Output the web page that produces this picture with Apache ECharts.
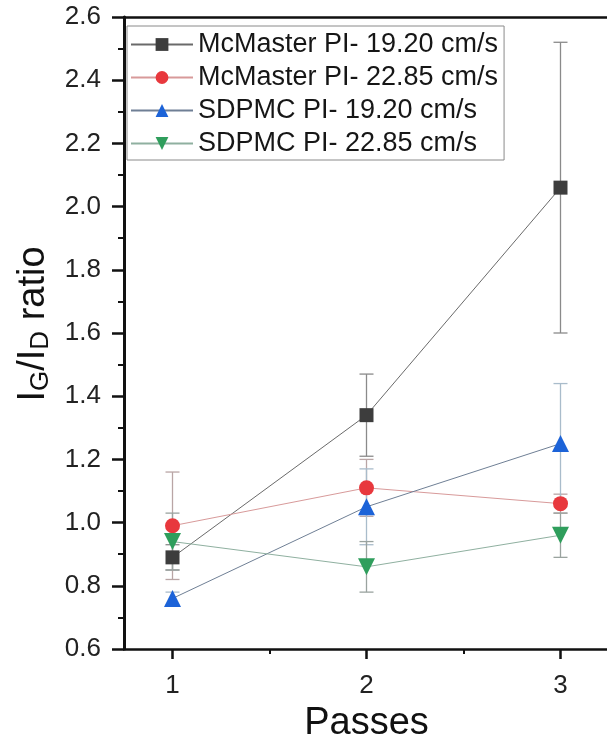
<!DOCTYPE html>
<html>
<head>
<meta charset="utf-8">
<script src="https://cdn.jsdelivr.net/npm/echarts@6/dist/echarts.min.js"></script>
<style>html,body{margin:0;padding:0;background:#fff;}#c{width:607px;height:739px;}</style>
</head>
<body>
<div id="c"></div>
<script>
// ---- data ----
const passes = [1, 2, 3];
const seriesNames = ['McMaster PI- 19.20 cm/s', 'McMaster PI- 22.85 cm/s', 'SDPMC PI- 19.20 cm/s', 'SDPMC PI- 22.85 cm/s'];
const mcm1920 = [0.89, 1.34, 2.06];
const mcm1920Err = [0.04, 0.13, 0.46];
const mcm2285 = [0.99, 1.11, 1.06];
const mcm2285Err = [0.17, 0.09, 0.03];
const sd1920 = [0.76, 1.05, 1.25];
const sd1920Err = [0.02, 0.12, 0.19];
const sd2285 = [0.94, 0.86, 0.96];
const sd2285Err = [0.09, 0.08, 0.07];
const xTickValues = [1, 2, 3];
const xMinorTickValues = [1.5, 2.5];

const FONT = 'Liberation Sans, Arial, sans-serif';
const styles = [
  {symbol: 'rect', size: 14, rot: 0, color: '#3d3d3d', line: '#6a6a6a', err: '#8a8a8a'},
  {symbol: 'circle', size: 15, rot: 0, color: '#e8383d', line: '#d89a9a', err: '#b9a5a5'},
  {symbol: 'triangle', size: 17, rot: 0, color: '#1c63d8', line: '#6f7f95', err: '#a9bccb'},
  {symbol: 'triangle', size: 17, rot: 180, color: '#2f9e5c', line: '#8fb0a0', err: '#9aa39f'}
];
const values = [mcm1920, mcm2285, sd1920, sd2285];
const errs = [mcm1920Err, mcm2285Err, sd1920Err, sd2285Err];

function errSeries(i) {
  const st = styles[i];
  return {
    type: 'custom',
    name: 'err' + i,
    z: 1,
    xAxisIndex: 0, yAxisIndex: 0,
    encode: {x: 0, y: [1, 2]},
    data: passes.map((p, k) => [p, values[i][k] - errs[i][k], values[i][k] + errs[i][k]]),
    renderItem: function (params, api) {
      const x = api.value(0);
      const lo = api.coord([x, api.value(1)]);
      const hi = api.coord([x, api.value(2)]);
      const hw = 7;
      const s = {stroke: st.err, lineWidth: 1.3};
      return {
        type: 'group',
        children: [
          {type: 'line', shape: {x1: lo[0], y1: lo[1], x2: hi[0], y2: hi[1]}, style: s},
          {type: 'line', shape: {x1: lo[0] - hw, y1: lo[1], x2: lo[0] + hw, y2: lo[1]}, style: s},
          {type: 'line', shape: {x1: hi[0] - hw, y1: hi[1], x2: hi[0] + hw, y2: hi[1]}, style: s}
        ]
      };
    }
  };
}

function lineSeries(i) {
  const st = styles[i];
  return {
    type: 'line',
    name: seriesNames[i],
    z: 3,
    xAxisIndex: 0, yAxisIndex: 0,
    data: passes.map((p, k) => [p, values[i][k]]),
    symbol: st.symbol,
    symbolSize: st.size,
    symbolRotate: st.rot,
    itemStyle: {color: st.color},
    lineStyle: {color: st.line, width: 1},
    emphasis: {disabled: true}
  };
}

const chart = echarts.init(document.getElementById('c'), null, {renderer: 'canvas'});
chart.setOption({
  animation: false,
  backgroundColor: '#fff',
  grid: {left: 124, right: -2, top: 17, bottom: 90, outerBoundsMode: 'none', containLabel: false},
  legend: {
    data: seriesNames,
    orient: 'vertical',
    left: 127, top: 26,
    itemWidth: 62, itemHeight: 16, itemGap: 6,
    padding: [5, 6, 3, 3],
    borderColor: '#8a8a8a', borderWidth: 1,
    textStyle: {fontSize: 27, fontFamily: FONT, color: '#161616'},
    selectedMode: false
  },
  xAxis: [
    {
      type: 'value', min: 0.75, max: 3.25, position: 'bottom',
      name: 'Passes', nameLocation: 'middle', nameGap: 56,
      nameTextStyle: {fontSize: 38, fontFamily: FONT, color: '#111'},
      axisLine: {show: true, lineStyle: {color: '#111', width: 2.5}},
      axisTick: {show: true, customValues: xTickValues, length: 10, inside: false, lineStyle: {color: '#111', width: 2.5}},
      axisLabel: {show: true, customValues: xTickValues, fontSize: 26, fontFamily: FONT, color: '#222', margin: 24},
      splitLine: {show: false}
    },
    {
      type: 'value', min: 0.75, max: 3.25, position: 'bottom',
      axisLine: {show: false},
      axisTick: {show: true, customValues: xMinorTickValues, length: 5, lineStyle: {color: '#111', width: 2}},
      axisLabel: {show: false},
      splitLine: {show: false}
    },
    {
      type: 'value', min: 0.75, max: 3.25, position: 'top',
      axisLine: {show: true, lineStyle: {color: '#111', width: 2.5}},
      axisTick: {show: false},
      axisLabel: {show: false},
      splitLine: {show: false}
    }
  ],
  yAxis: {
    type: 'value', min: 0.6, max: 2.6, interval: 0.2,
    name: '{i|I}{sub|G}{i|/I}{sub|D}{i| ratio}',
    nameLocation: 'middle', nameGap: 64,
    nameTextStyle: {
      fontFamily: FONT, color: '#111',
      padding: [0, 0, 0, 18],
      rich: {
        i: {fontSize: 38, fontFamily: FONT, color: '#111', lineHeight: 40, verticalAlign: 'middle'},
        sub: {fontSize: 26, fontFamily: FONT, color: '#111', lineHeight: 26, padding: [22, 0, 0, 0], verticalAlign: 'bottom'}
      }
    },
    axisLine: {show: true, lineStyle: {color: '#111', width: 3}},
    axisTick: {show: true, length: 12, inside: false, lineStyle: {color: '#111', width: 2.5}},
    minorTick: {show: true, splitNumber: 2, length: 6, lineStyle: {color: '#111', width: 2}},
    axisLabel: {fontSize: 26, fontFamily: FONT, color: '#222', margin: 23, formatter: v => v.toFixed(1)},
    splitLine: {show: false},
    minorSplitLine: {show: false}
  },
  series: [errSeries(0), errSeries(1), errSeries(2), errSeries(3),
           lineSeries(0), lineSeries(1), lineSeries(2), lineSeries(3)]
});
</script>
</body>
</html>
